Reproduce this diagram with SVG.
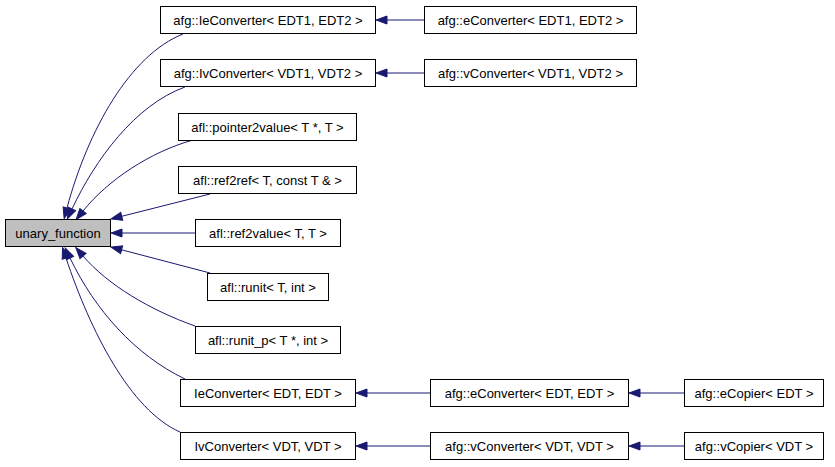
<svg xmlns="http://www.w3.org/2000/svg" width="835" height="467" viewBox="0 0 835 467">
<style>
.n rect{fill:#ffffff;stroke:#000000;stroke-width:1}
.n.g rect{fill:#bfbfbf}
.n text{font-family:"Liberation Sans",Arial,Helvetica,sans-serif;font-size:13px;fill:#000000;text-anchor:middle}
.e path{fill:none;stroke:#191970;stroke-width:1;marker-end:url(#ah)}
</style>
<defs>
<marker id="ah" markerUnits="userSpaceOnUse" markerWidth="12" markerHeight="10" refX="0" refY="0" viewBox="0 -5 12 10" orient="auto" overflow="visible">
<path d="M0,-4 L11,0 L0,4 z" fill="#191970" stroke="#191970" stroke-width="1"/>
</marker>
</defs>
<rect width="835" height="467" fill="#ffffff"/>
<g id="edges" class="e">
<path d="M183,34 C130,55 88,130 67,208"/>
<path d="M185,87 C135,105 95,160 72,209"/>
<path d="M193,140 C150,152 108,180 83,211"/>
<path d="M210,194 L121.7,216.3"/>
<path d="M195,233 L122,233"/>
<path d="M210,273 L121.6,249.8"/>
<path d="M195,326 C150,310 108,285 83,256"/>
<path d="M185,379 C135,355 95,310 70,258"/>
<path d="M180,432 C130,410 90,330 66,258"/>
<path d="M424,20 L387,20"/>
<path d="M424,73 L387,73"/>
<path d="M430,393 L367,393"/>
<path d="M684,393 L640,393"/>
<path d="M430,446 L367,446"/>
<path d="M684,446 L640,446"/>
</g>
<g id="unary_function" class="n g"><rect x="5.5" y="219.5" width="105" height="27"/><text x="58" y="237.5">unary_function</text></g>
<g id="afg_IeConverter_EDT1_EDT2" class="n"><rect x="160.5" y="6.5" width="215" height="27"/><text x="268" y="24.5">afg::IeConverter&lt; EDT1, EDT2 &gt;</text></g>
<g id="afg_IvConverter_VDT1_VDT2" class="n"><rect x="160.5" y="59.5" width="215" height="27"/><text x="268" y="77.5">afg::IvConverter&lt; VDT1, VDT2 &gt;</text></g>
<g id="afl_pointer2value" class="n"><rect x="178.5" y="113.5" width="178" height="27"/><text x="267.5" y="131.5">afl::pointer2value&lt; T *, T &gt;</text></g>
<g id="afl_ref2ref" class="n"><rect x="178.5" y="166.5" width="178" height="27"/><text x="267.5" y="184.5">afl::ref2ref&lt; T, const T &amp; &gt;</text></g>
<g id="afl_ref2value" class="n"><rect x="195.5" y="219.5" width="145" height="27"/><text x="268" y="237.5">afl::ref2value&lt; T, T &gt;</text></g>
<g id="afl_runit" class="n"><rect x="207.5" y="273.5" width="121" height="27"/><text x="268" y="291.5">afl::runit&lt; T, int &gt;</text></g>
<g id="afl_runit_p" class="n"><rect x="195.5" y="326.5" width="145" height="27"/><text x="268" y="344.5">afl::runit_p&lt; T *, int &gt;</text></g>
<g id="IeConverter_EDT_EDT" class="n"><rect x="180.5" y="379.5" width="175" height="27"/><text x="268" y="397.5">IeConverter&lt; EDT, EDT &gt;</text></g>
<g id="IvConverter_VDT_VDT" class="n"><rect x="180.5" y="432.5" width="175" height="27"/><text x="268" y="450.5">IvConverter&lt; VDT, VDT &gt;</text></g>
<g id="afg_eConverter_EDT1_EDT2" class="n"><rect x="424.5" y="6.5" width="212" height="27"/><text x="530.5" y="24.5">afg::eConverter&lt; EDT1, EDT2 &gt;</text></g>
<g id="afg_vConverter_VDT1_VDT2" class="n"><rect x="424.5" y="59.5" width="212" height="27"/><text x="530.5" y="77.5">afg::vConverter&lt; VDT1, VDT2 &gt;</text></g>
<g id="afg_eConverter_EDT_EDT" class="n"><rect x="430.5" y="379.5" width="198" height="27"/><text x="529.5" y="397.5">afg::eConverter&lt; EDT, EDT &gt;</text></g>
<g id="afg_vConverter_VDT_VDT" class="n"><rect x="430.5" y="432.5" width="198" height="27"/><text x="529.5" y="450.5">afg::vConverter&lt; VDT, VDT &gt;</text></g>
<g id="afg_eCopier_EDT" class="n"><rect x="684.5" y="379.5" width="139" height="27"/><text x="754" y="397.5">afg::eCopier&lt; EDT &gt;</text></g>
<g id="afg_vCopier_VDT" class="n"><rect x="684.5" y="432.5" width="139" height="27"/><text x="754" y="450.5">afg::vCopier&lt; VDT &gt;</text></g>
</svg>
